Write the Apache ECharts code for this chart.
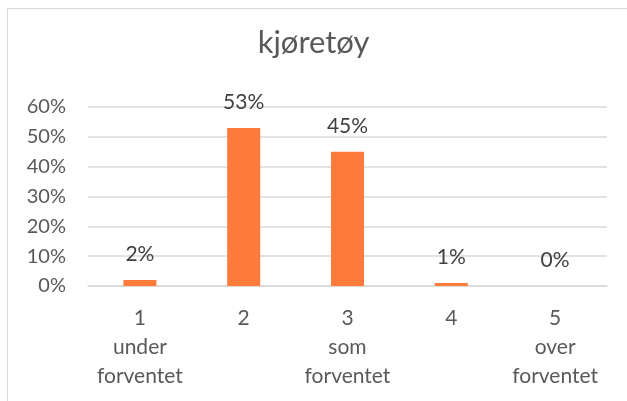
<!DOCTYPE html>
<html>
<head>
<meta charset="utf-8">
<script src="https://cdn.jsdelivr.net/npm/echarts@6/dist/echarts.min.js"></script>
<style>
  html, body { margin: 0; padding: 0; background: #fff; }
  #frame { position: absolute; left: 7px; top: 8px; width: 640px; height: 420px;
           border: 1.5px solid #d9d9d9; box-sizing: border-box; }
  #chart { position: absolute; left: 0; top: 0; width: 627px; height: 401px; }
</style>
</head>
<body>
<div id="frame"></div>
<div id="chart"></div>
<script>
// Response categories (scale 1–5) and share of answers
const categories = ['1\nunder\nforventet', '2', '3\nsom\nforventet', '4', '5\nover\nforventet'];
const shares = [0.02, 0.53, 0.45, 0.01, 0.00];
const yTicks = [0, 0.1, 0.2, 0.3, 0.4, 0.5, 0.6];

const FONT = 'Lato, "Open Sans", sans-serif';
const TEXT = '#595959';

const chart = echarts.init(document.getElementById('chart'), null, { renderer: 'canvas' });
chart.setOption({
  animation: false,
  backgroundColor: 'transparent',
  title: {
    text: 'kjøretøy',
    left: 'center',
    top: 22,
    textStyle: { fontFamily: FONT, fontSize: 31, fontWeight: 'normal', color: TEXT }
  },
  grid: { left: 88, right: 20, top: 107, bottom: 115 },
  xAxis: {
    type: 'category',
    data: categories,
    axisLine: { show: true, lineStyle: { color: '#d9d9d9', width: 1.5 } },
    axisTick: { show: false },
    axisLabel: {
      interval: 0,
      hideOverlap: false,
      color: TEXT, fontFamily: FONT, fontSize: 21, lineHeight: 29, margin: 18
    }
  },
  yAxis: {
    type: 'value',
    min: yTicks[0],
    max: yTicks[yTicks.length - 1],
    interval: 0.1,
    axisLine: { show: false },
    axisTick: { show: false },
    splitLine: { lineStyle: { color: '#d9d9d9', width: 1.5 } },
    axisLabel: {
      color: TEXT, fontFamily: FONT, fontSize: 20, margin: 22,
      formatter: v => Math.round(v * 100) + '%'
    }
  },
  series: [{
    type: 'bar',
    data: shares,
    barWidth: 33,
    itemStyle: { color: '#FE7B3B' },
    label: {
      show: true,
      position: 'top',
      distance: 15,
      color: '#404040',
      fontFamily: FONT,
      fontSize: 21,
      formatter: p => Math.round(p.value * 100) + '%'
    }
  }]
});
</script>
</body>
</html>
